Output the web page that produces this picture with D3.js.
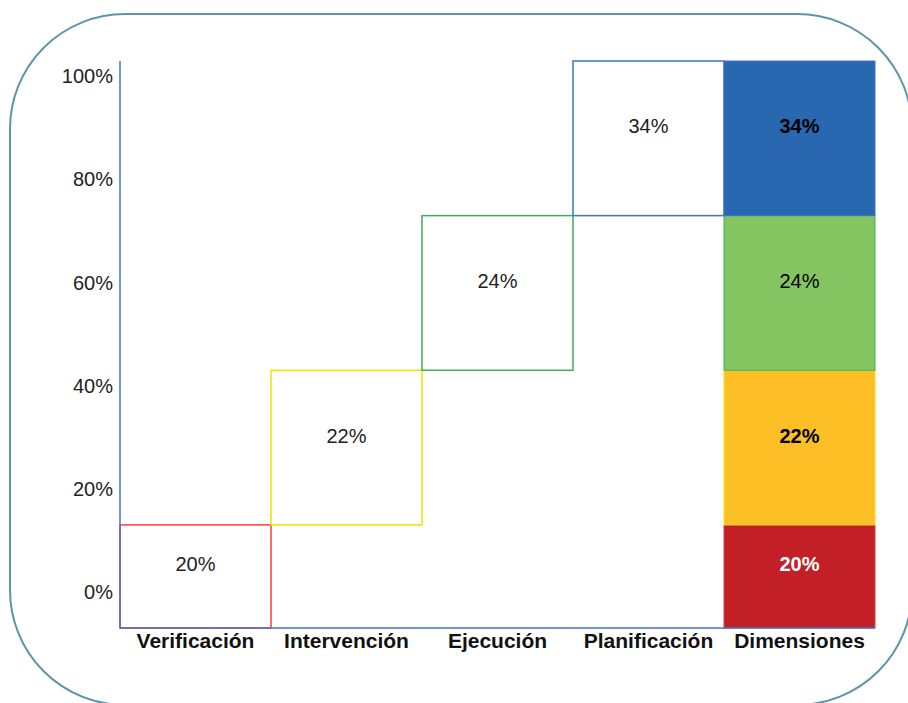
<!DOCTYPE html>
<html>
<head>
<meta charset="utf-8">
<script src="https://cdn.jsdelivr.net/npm/d3@7"></script>
<style>
  html, body { margin: 0; padding: 0; background: #fff; }
  svg { display: block; font-family: "Liberation Sans", Arial, sans-serif; }
</style>
</head>
<body>
<svg id="chart" width="908" height="703"></svg>
<script>
// ---- data ----
const categories = ["Verificación", "Intervención", "Ejecución", "Planificación"];
const totalLabel = "Dimensiones";
const values = [20, 22, 24, 34];            // printed percentages
const drawnSpans = [20, 30, 30, 30];        // segment spans as drawn against the axis
const tickValues = [0, 20, 40, 60, 80, 100];
const outlineColors = ["#ff3b3b", "#f0e400", "#3daf5a", "#4472c4"];
const fillColors = ["#c22026", "#fdbf26", "#84c562", "#2a67b1"];
const fillStrokes = ["#e04040", "#f4e21a", "#3daf5a", "#4472c4"];
const totalLabelColors = ["#ffffff", "#000000", "#000000", "#000000"];
const totalLabelWeights = ["bold", "bold", "normal", "bold"];

// ---- layout ----
const svg = d3.select("#chart");
const mLeft = 120, mRight = 875, mTop = 61, mBottom = 628;

// frame
svg.append("rect")
  .attr("x", 10).attr("y", 14).attr("width", 902).attr("height", 691)
  .attr("rx", 115).attr("ry", 115)
  .attr("fill", "none").attr("stroke", "#5d96a8").attr("stroke-width", 2);

const x = d3.scaleBand().domain([...categories, totalLabel]).range([mLeft, mRight]).padding(0);
const y = d3.scaleLinear().domain([-7, 103]).range([mBottom, mTop]);

// cumulative
let acc = -7;
const segs = categories.map((c, i) => {
  const s = { cat: c, i, v: values[i], y0: acc, y1: acc + drawnSpans[i] };
  acc += drawnSpans[i];
  return s;
});

const g = svg.append("g");
// waterfall boxes
g.selectAll("rect.wf").data(segs).enter().append("rect")
  .attr("class", "wf")
  .attr("x", d => x(d.cat))
  .attr("y", d => y(d.y1))
  .attr("width", x.bandwidth())
  .attr("height", d => y(d.y0) - y(d.y1))
  .attr("fill", "none")
  .attr("stroke", d => outlineColors[d.i])
  .attr("stroke-width", 1.5);

g.selectAll("text.wf").data(segs).enter().append("text")
  .attr("class", "wf")
  .attr("x", d => x(d.cat) + x.bandwidth() / 2)
  .attr("y", d => (y(d.y0) + y(d.y1)) / 2 - 12)
  .attr("text-anchor", "middle").attr("dominant-baseline", "central")
  .attr("font-size", 20).attr("fill", "#222")
  .text(d => d.v + "%");

// stacked total bar
g.selectAll("rect.tot").data(segs).enter().append("rect")
  .attr("class", "tot")
  .attr("x", x(totalLabel))
  .attr("y", d => y(d.y1))
  .attr("width", x.bandwidth())
  .attr("height", d => y(d.y0) - y(d.y1))
  .attr("fill", d => fillColors[d.i])
  .attr("stroke", d => fillStrokes[d.i])
  .attr("stroke-width", 1);

g.selectAll("text.tot").data(segs).enter().append("text")
  .attr("class", "tot")
  .attr("x", x(totalLabel) + x.bandwidth() / 2)
  .attr("y", d => (y(d.y0) + y(d.y1)) / 2 - 12)
  .attr("text-anchor", "middle").attr("dominant-baseline", "central")
  .attr("font-size", 20)
  .attr("font-weight", d => totalLabelWeights[d.i])
  .attr("fill", d => totalLabelColors[d.i])
  .text(d => d.v + "%");

// axes
const yAxis = svg.append("g").attr("transform", `translate(${mLeft},0)`)
  .call(d3.axisLeft(y).tickValues(tickValues).tickSize(0).tickPadding(7).tickFormat(d => d + "%"));
yAxis.select(".domain").attr("stroke", "#4472c4").attr("stroke-width", 1.5).attr("d", `M0,${mTop}V${mBottom}`);
yAxis.selectAll("text").attr("font-size", 20).attr("fill", "#222").attr("font-family", "Liberation Sans, Arial, sans-serif");

const xAxis = svg.append("g").attr("transform", `translate(0,${mBottom})`)
  .call(d3.axisBottom(x).tickSize(0).tickPadding(5));
xAxis.select(".domain").attr("stroke", "#4472c4").attr("stroke-width", 1.5).attr("d", `M${mLeft},0H${mRight}`);
xAxis.selectAll("text").attr("font-size", 21).attr("font-weight", "bold").attr("fill", "#111")
  .attr("font-family", "Liberation Sans, Arial, sans-serif");
</script>
</body>
</html>
